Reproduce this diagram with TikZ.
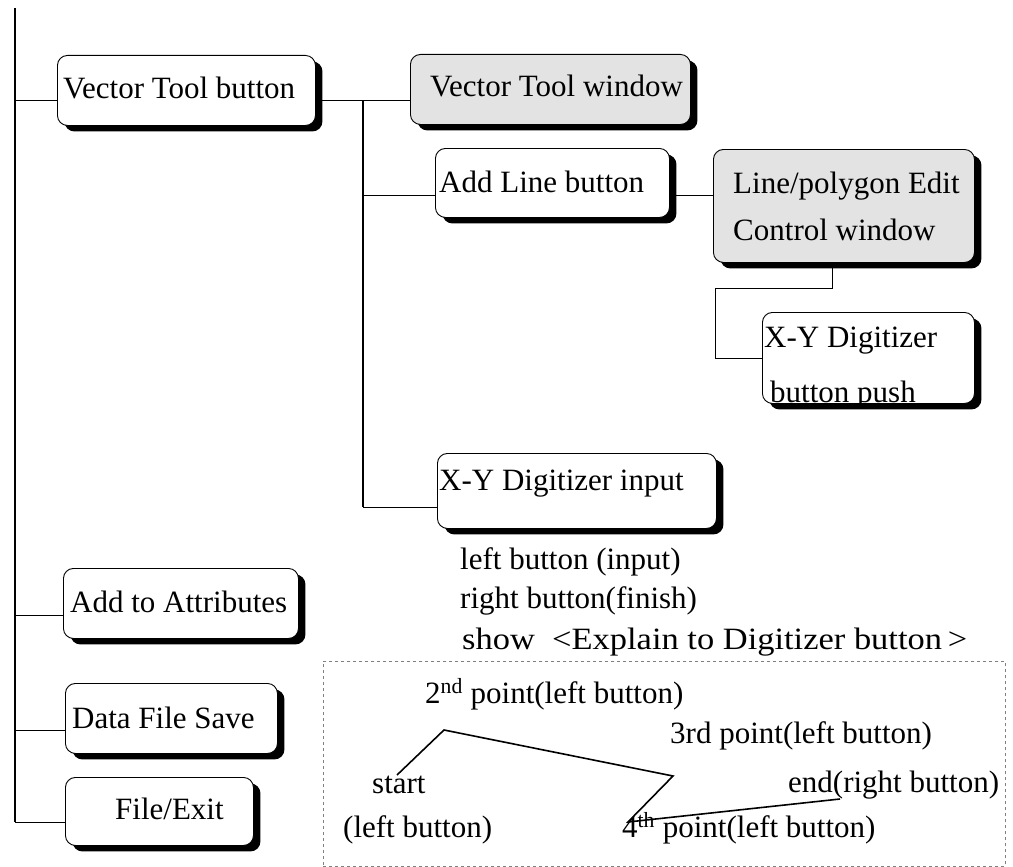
\documentclass[tikz,border=0pt]{standalone}
\usepackage{fontspec}
\setmainfont{Liberation Serif}
\usepackage{graphicx}
\usetikzlibrary{shadows}
\pgfdeclarelayer{bg}
\pgfsetlayers{bg,main}
\begin{document}
\begin{tikzpicture}[x=1pt,y=-1pt,
  btn/.style={draw, line width=0.9pt, rounded corners=10pt, fill=white, anchor=north west, inner sep=0pt,
    drop shadow={shadow xshift=7pt, shadow yshift=-6pt, fill=black, opacity=1}},
  win/.style={btn, fill=gray!22},
  lbl/.style={inner sep=0pt, font=\fontsize{31}{37}\selectfont, anchor=base west},
  conn/.style={line width=1pt},
  trunk/.style={line width=2.2pt},
  demo/.style={draw=gray, dash pattern=on 3pt off 3pt, line width=0.9pt, anchor=north west, inner sep=0pt},
  poly/.style={line width=1.6pt, line join=miter}]
\useasboundingbox (0,0) rectangle (1013,867);

% boxes
\node[btn, minimum width=258pt, minimum height=70pt] (vtb) at (57,55) {};
\node[win, minimum width=280pt, minimum height=70pt] (vtw) at (410,54) {};
\node[btn, minimum width=234pt, minimum height=69pt] (alb) at (435,148) {};
\node[win, minimum width=261pt, minimum height=113pt] (lpe) at (713,149) {};
\node[btn, minimum width=212pt, minimum height=91pt] (xyb) at (762,312) {};
\node[btn, minimum width=279pt, minimum height=75pt] (xyi) at (437,453) {};
\node[btn, minimum width=235pt, minimum height=70pt] (ata) at (63,568) {};
\node[btn, minimum width=212pt, minimum height=70pt] (dfs) at (65,683) {};
\node[btn, minimum width=188pt, minimum height=68pt] (fe) at (65,777) {};

% labels in boxes
\node[lbl] (t-vtb) at (63,99) {Vector Tool button};
\node[lbl] (t-vtw) at (430,96) {Vector Tool window};
\node[lbl] (t-alb) at (439,192) {Add Line button};
\node[lbl] (t-lpe1) at (733,193) {Line/polygon Edit};
\node[lbl] (t-lpe2) at (733,240) {Control window};
\node[lbl] (t-xyb1) at (764,347) {X-Y Digitizer};
\begin{scope}
  \clip[rounded corners=10pt] (xyb.north west) rectangle (xyb.south east);
  \node[lbl] (t-xyb2) at (770,402) {button push};
\end{scope}
\node[lbl] (t-xyi) at (439,490) {X-Y Digitizer input};
\node[lbl] (t-ata) at (70,612) {Add to Attributes};
\node[lbl] (t-dfs) at (72,728) {Data File Save};
\node[lbl] (t-fe) at (115,819) {File/Exit};

% free text
\node[lbl] (n1) at (460,569) {left button (input)};
\node[lbl] (n2) at (460,608) {right button(finish)};
\node[lbl] (n3) at (462,649) {\resizebox{505pt}{\height}{show \ {<}Explain to Digitizer button\,{>}}};

% connectors
\coordinate (t0) at (15,8);
\coordinate (c-vtb) at (15,101);
\coordinate (c-ata) at (15,615);
\coordinate (c-dfs) at (15,730);
\coordinate (c-fe) at (15,822);
\coordinate (s0) at (363,101);
\coordinate (s-alb) at (363,195);
\coordinate (s1) at (363,507);
\coordinate (j1) at (832,288);
\coordinate (j2) at (715,288);
\coordinate (j3) at (715,358);
\begin{pgfonlayer}{bg}
\draw[trunk] (t0) -- (c-fe);
\draw[conn] (c-vtb) -- (c-vtb -| vtb.west);
\draw[conn] (c-ata) -- (c-ata -| ata.west);
\draw[conn] (c-dfs) -- (c-dfs -| dfs.west);
\draw[conn] (c-fe) -- (c-fe -| fe.west);
\draw[conn] (s0 -| vtb.east) -- (s0 -| vtw.west);
\draw[trunk] (s0) -- (s1);
\draw[conn] (s-alb) -- (s-alb -| alb.west);
\draw[conn] (s1) -- (s1 -| xyi.west);
\draw[conn] (s-alb -| alb.east) -- (s-alb -| lpe.west);
\draw[conn] (j1 |- lpe.south) -- (j1) -- (j2) -- (j3) -- (j3 -| xyb.west);
\end{pgfonlayer}

% digitizer explanation
\node[demo, minimum width=682pt, minimum height=205pt] (demo) at (323,661) {};
\node[lbl] (d1) at (425,703) {2\textsuperscript{nd} point(left button)};
\node[lbl] (d2) at (670,743) {3rd point(left button)};
\node[lbl] (d3) at (372,793) {start};
\node[lbl] (d4) at (788,792) {end(right button)};
\node[lbl] (d5) at (343,837) {(left button)};
\node[lbl] (d6) at (622,837) {4\textsuperscript{th} point(left button)};
\coordinate (p1) at (397,775);
\coordinate (p2) at (444,730);
\coordinate (p3) at (673,776);
\coordinate (p4) at (628,822);
\coordinate (p5) at (840,799);
\draw[poly] (p1) -- (p2) -- (p3) -- (p4) -- (p5);
\end{tikzpicture}
\end{document}
